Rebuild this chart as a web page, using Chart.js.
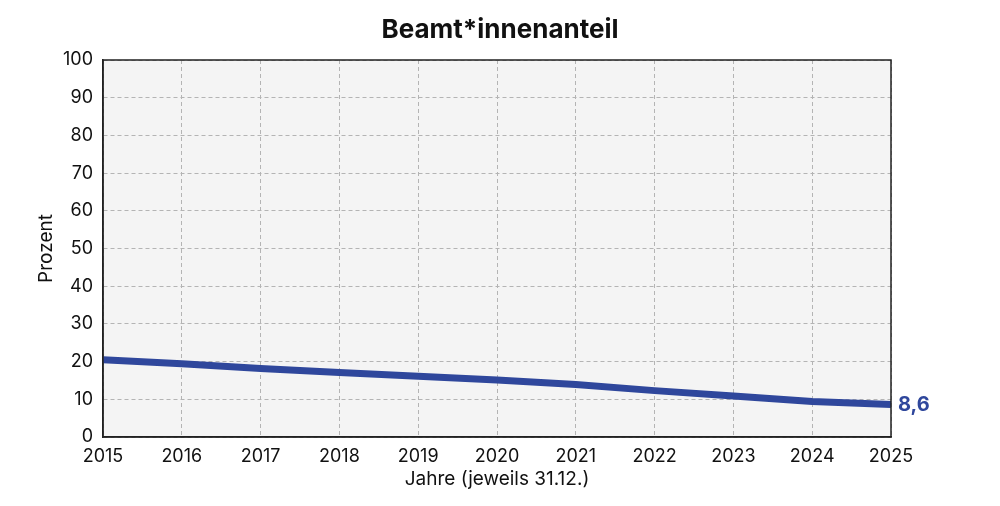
<!DOCTYPE html>
<html>
<head>
<meta charset="utf-8">
<script src="https://cdn.jsdelivr.net/npm/chart.js@4/dist/chart.umd.min.js"></script>
<style>
  html, body { margin: 0; padding: 0; background: #fff; }
  #wrap { width: 1000px; height: 506px; }
</style>
</head>
<body>
<div id="wrap"><canvas id="chart"></canvas></div>
<script>
const years = ["2015", "2016", "2017", "2018", "2019", "2020", "2021", "2022", "2023", "2024", "2025"];
const shareValues = [20.5, 19.4, 18.2, 17.1, 16.1, 15.1, 13.9, 12.3, 10.9, 9.4, 8.6];
const lastLabel = "8,6";

const lineColor = "#2f479c";
const fontFamily = "Inter, 'Liberation Sans', sans-serif";

// grey plot background + dark frame
const plotFrame = {
  id: "plotFrame",
  beforeDraw(chart) {
    const { ctx, chartArea: a } = chart;
    ctx.save();
    ctx.fillStyle = "#f4f4f4";
    ctx.fillRect(a.left, a.top, a.right - a.left, a.bottom - a.top);
    ctx.restore();
  },
  afterDraw(chart) {
    const { ctx, chartArea: a } = chart;
    ctx.save();
    ctx.strokeStyle = "#222";
    ctx.lineWidth = 1.5;
    ctx.strokeRect(a.left, a.top, a.right - a.left, a.bottom - a.top);
    ctx.restore();
  }
};

// value label next to the last point
const endLabel = {
  id: "endLabel",
  afterDatasetsDraw(chart) {
    const { ctx, scales } = chart;
    const i = shareValues.length - 1;
    const x = scales.x.getPixelForValue(i);
    const y = scales.y.getPixelForValue(shareValues[i]);
    ctx.save();
    ctx.font = "bold 20px " + fontFamily;
    ctx.fillStyle = lineColor;
    ctx.textBaseline = "middle";
    ctx.fillText(lastLabel, x + 7, y);
    ctx.restore();
  }
};

const ctx = document.getElementById("chart").getContext("2d");
new Chart(ctx, {
  type: "line",
  data: {
    labels: years,
    datasets: [{
      data: shareValues,
      borderColor: lineColor,
      borderWidth: 7,
      pointRadius: 0,
      tension: 0,
      fill: false
    }]
  },
  options: {
    responsive: true,
    maintainAspectRatio: false,
    animation: false,
    layout: { padding: 0 },
    plugins: {
      legend: { display: false },
      tooltip: { enabled: false },
      title: {
        display: true,
        text: "Beamt*innenanteil",
        color: "#111",
        font: { family: fontFamily, size: 26, weight: "bold", lineHeight: 1.2 },
        padding: { top: 15, bottom: 13.8 }
      }
    },
    scales: {
      x: {
        offset: false,
        afterFit(scale) { scale.height = 69; },
        border: { display: true, color: "#222", width: 1.5, dash: [4, 3] },
        grid: { color: "#b4b4b4", tickLength: 0, drawTicks: false },
        ticks: { color: "#111", padding: 9, maxRotation: 0, font: { family: fontFamily, size: 18 } },
        title: {
          display: true,
          text: "Jahre (jeweils 31.12.)",
          color: "#111",
          padding: { top: 4, bottom: 15 },
          font: { family: fontFamily, size: 19 }
        }
      },
      y: {
        min: 0,
        max: 100,
        afterFit(scale) { scale.width = 103; },
        border: { display: true, color: "#222", width: 1.5, dash: [4, 3] },
        grid: { color: "#b4b4b4", tickLength: 0, drawTicks: false },
        ticks: { stepSize: 10, color: "#111", padding: 10, font: { family: fontFamily, size: 18 } },
        title: {
          display: true,
          text: "Prozent",
          color: "#111",
          padding: { top: 35, bottom: 4 },
          font: { family: fontFamily, size: 19 }
        }
      },
      // empty right axis that only reserves room for the end label
      yRight: {
        position: "right",
        min: 0,
        max: 100,
        afterFit(scale) { scale.width = 109; },
        border: { display: false },
        grid: { display: false },
        ticks: { display: false }
      }
    }
  },
  plugins: [plotFrame, endLabel]
});
</script>
</body>
</html>
